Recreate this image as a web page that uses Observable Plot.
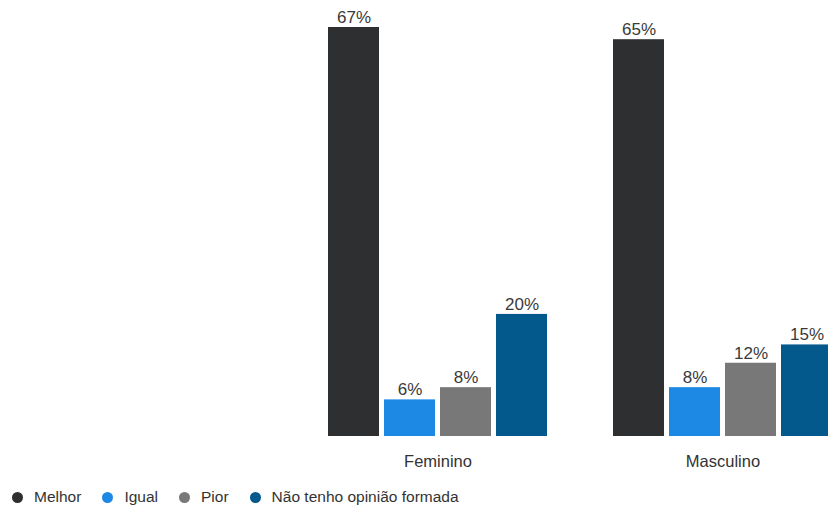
<!DOCTYPE html>
<html><head><meta charset="utf-8">
<script src="https://cdn.jsdelivr.net/npm/d3@7"></script>
<script src="https://cdn.jsdelivr.net/npm/@observablehq/plot@0.6"></script>
<style>
body{margin:0;background:#fff;font-family:"Liberation Sans",Arial,sans-serif;}
#chart{width:828px;height:480px;overflow:hidden;}
#chart svg{max-width:none !important;}
.legend{display:flex;align-items:center;height:20px;margin-top:7px;padding-left:12px;font-size:15.5px;color:#333;}
.legend .item{display:flex;align-items:center;margin-right:21px;}
.legend .dot{width:11px;height:11px;border-radius:50%;margin-right:11px;}
</style></head><body>
<div id="chart"></div>
<div class="legend" id="legend"></div>
<script>
const groups = ["Feminino", "Masculino"];
const categories = ["Melhor", "Igual", "Pior", "Não tenho opinião formada"];
const colors = ["#2e2f31", "#1e88e5", "#787878", "#03588c"];
const feminino = [67, 6, 8, 20];
const masculino = [65, 8, 12, 15];

const data = [];
categories.forEach((c, i) => data.push({group: "Feminino", cat: c, value: feminino[i]}));
categories.forEach((c, i) => data.push({group: "Masculino", cat: c, value: masculino[i]}));

const plot = Plot.plot({
  width: 832, height: 480,
  marginLeft: 328, marginRight: 0, marginTop: 27, marginBottom: 44,
  style: {fontFamily: "'Liberation Sans', Arial, sans-serif", fontSize: "16.5px", color: "#333", background: "#fff", maxWidth: "none"},
  facet: {data, x: "group"},
  fx: {domain: groups, paddingInner: 66/285, paddingOuter: 0, label: null, tickSize: 0, tickPadding: 19},
  x: {domain: categories, paddingInner: 5/56, paddingOuter: 0, axis: null},
  y: {domain: [0, 67], axis: null},
  color: {domain: categories, range: colors},
  marks: [
    Plot.barY(data, {x: "cat", y: "value", fill: "cat"}),
    Plot.text(data, {x: "cat", y: "value", text: d => d.value + "%", dy: -10, fontSize: 17, fill: "#3a3a3a"})
  ]
});
document.getElementById("chart").appendChild(plot);

const legend = d3.select("#legend");
categories.forEach((c, i) => {
  const it = legend.append("div").attr("class", "item");
  it.append("div").attr("class", "dot").style("background", colors[i]);
  it.append("span").text(c);
});
</script>
</body></html>
